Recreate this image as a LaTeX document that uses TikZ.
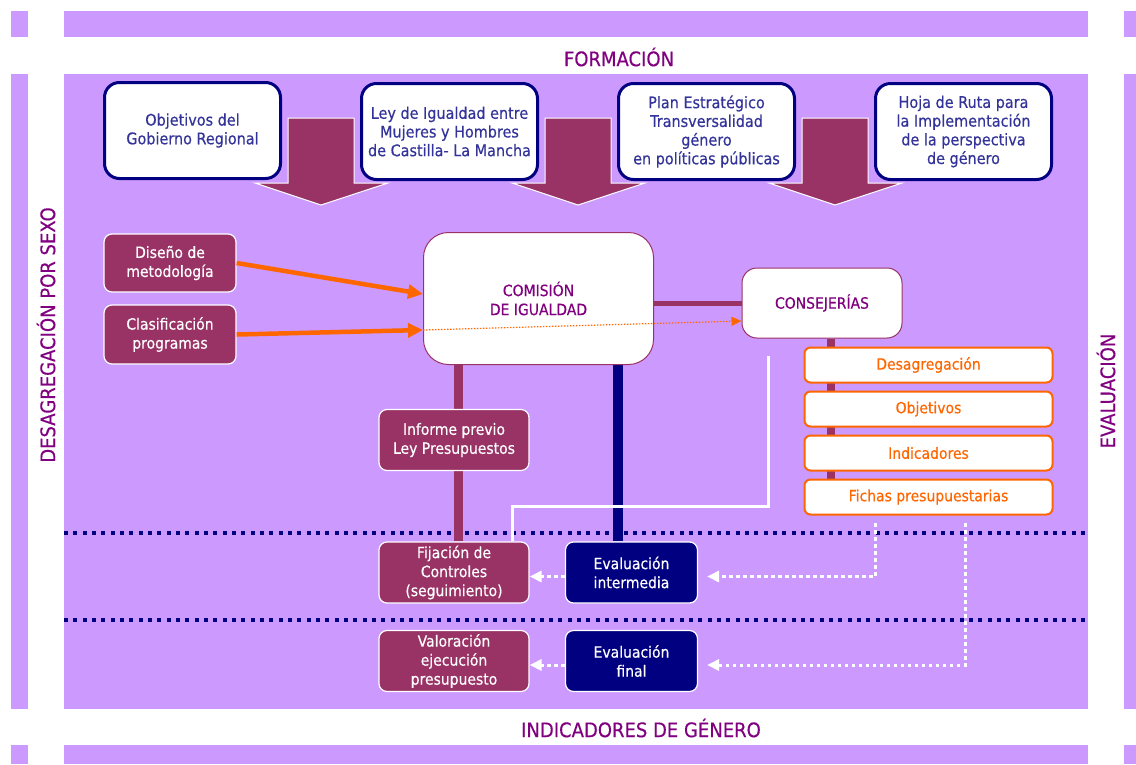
\documentclass[tikz,border=0pt]{standalone}
\usepackage{fontspec}
\setmainfont[FakeStretch=0.9,FakeBold=0.4]{DejaVu Sans}
\usetikzlibrary{arrows.meta}
\definecolor{lav}{HTML}{CC99FF}
\definecolor{maroonc}{HTML}{993366}
\definecolor{navyc}{HTML}{000080}
\definecolor{orng}{HTML}{FF6600}
\definecolor{purp}{HTML}{800080}
\definecolor{tblue}{HTML}{333399}
\pgfdeclarelayer{bg}
\pgfdeclarelayer{lines}
\pgfsetlayers{bg,lines,main}
\tikzset{
  topbox/.style={draw=navyc, line width=3pt, fill=white, rounded corners=15pt,
    minimum width=176pt, minimum height=96pt, align=center, text=tblue,
    font=\fontsize{16}{18.7}\selectfont, inner sep=0pt},
  mbox/.style={draw=white, line width=1.2pt, fill=maroonc, rounded corners=8pt,
    text=white, align=center, minimum width=150pt, minimum height=61pt, inner sep=0pt},
  nbox/.style={mbox, fill=navyc, minimum width=132pt},
  obox/.style={draw=orng, line width=2pt, fill=white, rounded corners=6pt,
    text=orng, minimum width=248pt, minimum height=35pt, inner sep=0pt},
  bigbox/.style={draw=maroonc, line width=1pt, fill=white, text=purp, align=center, inner sep=0pt},
  titletext/.style={text=purp, font=\fontsize{20}{24}\selectfont, inner sep=0pt},
  bigarrow/.style={fill=maroonc, draw=white, line width=1pt},
  oarrow/.style={draw=orng, line width=4.5pt, -{Triangle[length=15pt,width=14pt]}},
  odot/.style={draw=orng, line width=1.2pt, dash pattern=on 1.5pt off 1.5pt, -{Triangle[length=10pt,width=9pt]}},
  wdot/.style={draw=white, line width=3pt, dash pattern=on 3.5pt off 3.5pt, -{Triangle[length=12pt,width=11pt]}},
  ndot/.style={draw=navyc, line width=4pt, dash pattern=on 4pt off 5.33pt},
}
\begin{document}
\begin{tikzpicture}[x=1pt, y=-1pt, font=\fontsize{15.5}{19}\selectfont]
\useasboundingbox (0,0) rectangle (1136,764);
\begin{pgfonlayer}{bg}
  \fill[white] (0,0) rectangle (1136,764);
  \foreach \ya/\yb in {11/37, 74/709, 745/764} {
    \fill[lav] (11,\ya) rectangle (28,\yb);
    \fill[lav] (64,\ya) rectangle (1088,\yb);
    \fill[lav] (1124,\ya) rectangle (1136,\yb);
  }
  \draw[ndot] (64,533) -- (1088,533);
  \draw[ndot] (64,620) -- (1088,620);
\end{pgfonlayer}

% titles
\node[titletext] (form) at (619,57) {FORMACIÓN};
\node[titletext] (indg) at (641,728) {INDICADORES DE GÉNERO};
\node[titletext, rotate=90] (desag) at (46,335) {DESAGREGACIÓN POR SEXO};
\node[titletext, rotate=90] (evalt) at (1106,391) {EVALUACIÓN};

% big arrows
\foreach \dx in {0,257,514} {
  \filldraw[bigarrow] (288+\dx,118) -- (354+\dx,118) -- (354+\dx,183) -- (388+\dx,183)
    -- (321+\dx,205) -- (255+\dx,183) -- (288+\dx,183) -- cycle;
}

% top boxes
\node[topbox] (t1) at (192.5,130.5) {Objetivos del\\Gobierno Regional};
\node[topbox] (t2) at (449.5,131.5) {Ley de Igualdad entre\\Mujeres y Hombres\\de Castilla- La Mancha};
\node[topbox] (t3) at (706.5,131.5) {Plan Estratégico\\Transversalidad\\género\\en políticas públicas};
\node[topbox] (t4) at (963.5,131.5) {Hoja de Ruta para\\la Implementación\\de la perspectiva\\de género};

% left boxes
\node[mbox, minimum width=132pt, minimum height=58pt] (dis) at (170,263) {Diseño de\\metodología};
\node[mbox, minimum width=132pt, minimum height=59pt] (cla) at (170,334.5) {Clasificación\\programas};

% central
\node[bigbox, rounded corners=25pt, minimum width=230pt, minimum height=132pt] (com) at (538.5,298.5) {COMISIÓN\\DE IGUALDAD};
\node[bigbox, rounded corners=15pt, minimum width=160pt, minimum height=70pt] (con) at (822,303) {CONSEJERÍAS};

% orange list
\node[obox] (des) at (928.5,365) {Desagregación};
\node[obox] (obj) at (928.5,409) {Objetivos};
\node[obox] (ind) at (928.5,453) {Indicadores};
\node[obox] (fic) at (928.5,497) {Fichas presupuestarias};

% lower boxes
\node[mbox] (inf) at (454,440) {Informe previo\\Ley Presupuestos};
\node[mbox] (fij) at (454,572.5) {Fijación de\\Controles\\(seguimiento)};
\node[mbox] (val) at (454,661) {Valoración\\ejecución\\presupuesto};
\node[nbox] (evi) at (631.5,572.5) {Evaluación\\intermedia};
\node[nbox] (evf) at (631.5,661) {Evaluación\\final};

\coordinate (w0) at (768,356);
\coordinate (d1) at (875,523);
\coordinate (d2) at (965,523);

\begin{pgfonlayer}{lines}
  \draw[maroonc, line width=9pt] ([xshift=-80pt]com.south) -- ([xshift=-80pt]com.south |- fij.north);
  \draw[navyc, line width=9.5pt] ([xshift=79.5pt]com.south) -- ([xshift=79.5pt]com.south |- evi.north);
  \draw[maroonc, line width=5pt] (con.west) -- (con.west -| com.east);
  \draw[maroonc, line width=8pt] ([xshift=9pt]con.south) -- ([xshift=9pt]con.south |- fic.north);
  \draw[white, line width=3pt] (w0) -- (w0 |- 0,506) -| ([xshift=58pt]fij.north);
\end{pgfonlayer}

% connectors
\draw[oarrow] (dis.east) -- (com.west |- 0,294);
\draw[oarrow] (cla.east) -- (com.west |- 0,330);
\draw[odot] (com.west |- 0,330) -- (con.west |- 0,321);
\draw[wdot] ([yshift=-4pt]evi.west) -- ([yshift=-4pt]fij.east);
\draw[wdot] ([yshift=-4pt]evf.west) -- ([yshift=-4pt]val.east);
\draw[wdot] (d1) |- ([xshift=9pt,yshift=-4pt]evi.east);
\draw[wdot] (d2) |- ([xshift=9pt,yshift=-4pt]evf.east);
\end{tikzpicture}
\end{document}
